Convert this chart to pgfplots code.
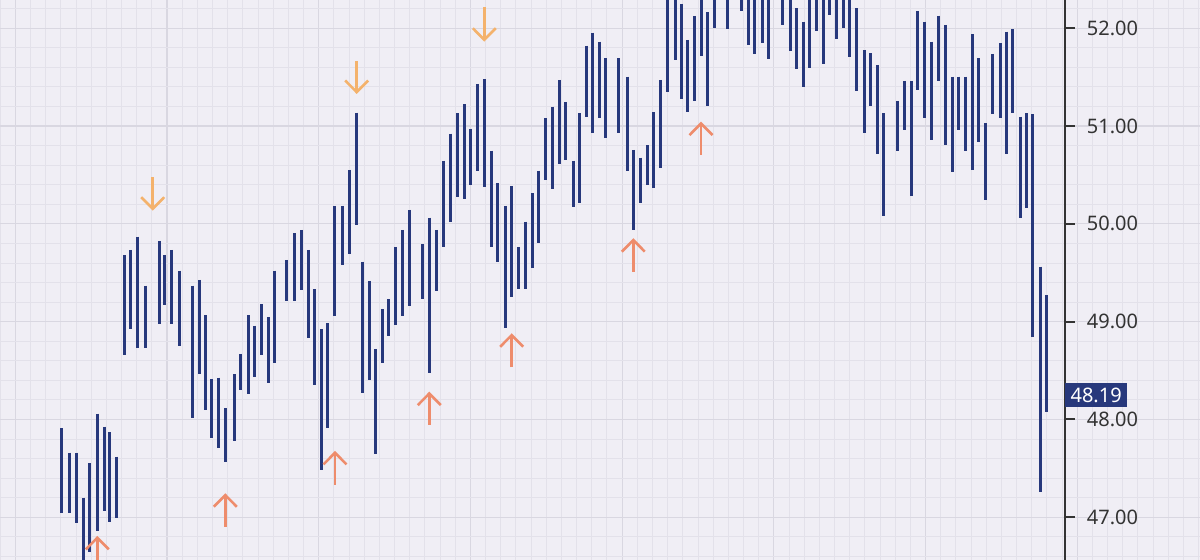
\documentclass[border=0pt]{standalone}
\usepackage{fontspec}
\setmainfont{Noto Sans}
\usepackage{pgfplots}
\pgfplotsset{compat=1.18}
\usepackage{pgfplotstable}
\usetikzlibrary{arrows.meta}
\definecolor{bg}{HTML}{F0EEF5}
\definecolor{gridmajor}{HTML}{D9D7E1}
\definecolor{gridminor}{HTML}{E3E1EA}
\definecolor{barblue}{HTML}{27387C}
\definecolor{upc}{HTML}{EE8C6C}
\definecolor{downc}{HTML}{F4B26C}
\definecolor{axisc}{HTML}{333333}

\pgfplotstableread{
x lo hi
61.7 47.047 47.910
69.3 47.047 47.661
76.7 46.945 47.661
83.7 46.45 47.200
89.7 46.648 47.552
97.3 46.86 48.059
104 47.064 47.926
109.7 46.955 47.869
116.7 46.990 47.620
124 48.660 49.679
130.7 48.928 49.733
137.7 48.728 49.869
145 48.728 49.368
159 48.977 49.825
164.7 49.171 49.682
171.3 48.977 49.733
179 48.755 49.521
192.7 48.018 49.368
199 48.465 49.426
205.7 48.097 49.065
211.3 47.814 48.414
218.7 47.712 48.427
225.3 47.560 48.112
234 47.783 48.462
240.7 48.302 48.670
248.3 48.261 49.065
254.3 48.438 48.959
261.3 48.656 49.178
268.3 48.376 49.045
274.3 48.581 49.521
286.7 49.211 49.631
294 49.211 49.904
301 49.324 49.938
308 48.830 49.733
314.7 48.353 49.331
321 47.483 48.922
327.7 47.916 48.984
334.7 49.058 50.183
342.7 49.577 50.183
349.3 49.689 50.551
356.7 49.989 51.137
362.7 48.268 49.614
369 48.404 49.416
375.3 47.647 48.718
382.3 48.581 49.127
388.7 48.854 49.229
395.7 48.969 49.764
402.3 49.058 49.938
409.3 49.160 50.142
422.7 49.232 49.791
429.3 48.472 50.063
436.7 49.317 49.938
443.7 49.767 50.646
450.7 50.019 50.922
457 50.272 51.131
464 50.252 51.223
470.7 50.398 50.973
477 50.544 51.430
484.3 50.374 51.479
491 49.767 50.748
497.7 49.610 50.415
505 48.933 50.183
511.7 49.256 50.388
518.7 49.337 49.761
525.3 49.337 50.022
532 49.552 50.313
538.3 49.802 50.544
545 50.449 51.080
552 50.354 51.198
559.3 50.612 51.471
565.8 50.648 51.246
573.7 50.176 50.646
579 50.211 51.131
586 51.096 51.822
592.7 50.926 51.955
599.3 51.086 51.863
605.7 50.881 51.693
618.7 50.933 51.693
627 50.541 51.505
633.7 49.938 50.756
640 50.217 50.677
647 50.395 50.804
653.7 50.370 51.141
660 50.575 51.471
667.3 51.346 52.40
675 51.676 52.50
681.3 51.274 52.248
687.7 51.141 51.880
694.7 51.260 52.126
701 51.717 52.40
707.7 51.206 52.164
714.3 52.000 52.50
727.7 51.993 52.60
741 52.177 52.60
748.3 51.829 52.40
754 51.734 52.50
762 51.847 52.60
768.3 51.683 52.40
782.7 52.034 52.60
790 51.771 52.50
796.7 51.584 52.204
803.7 51.403 52.067
809.7 51.597 52.40
816 51.972 52.60
823.3 51.632 52.50
829.7 52.136 52.70
836 51.891 52.50
843.3 52.000 52.60
849.7 51.703 52.40
856.7 51.362 52.204
864.7 50.933 51.778
870 51.206 51.744
877.7 50.715 51.625
883.3 50.084 51.131
897.3 50.745 51.257
904.5 50.960 51.461
911.7 50.288 51.461
917.3 51.369 52.177
924 51.080 52.067
931.7 50.858 51.863
938.3 51.464 52.129
945 50.807 52.034
952.7 50.531 51.505
958.3 50.960 51.505
965.7 50.745 51.505
972.7 50.551 51.939
978.3 50.834 51.693
985.3 50.244 51.029
992.3 51.124 51.737
1000 51.080 51.847
1006 50.712 51.965
1012.3 51.137 51.990
1020 50.057 51.096
1026 50.160 51.131
1032 48.840 51.121
1040 47.256 49.562
1046.7 48.072 49.273
}\bars

\pgfplotstableread{
x y v
97.3 46.47 0.339
225.3 46.904 0.341
335 47.330 0.348
429.3 47.944 0.340
511.7 48.534 0.347
633.3 49.511 0.342
701 50.704 0.341
}\uparrows

\pgfplotstableread{
x y v
152.7 50.476 -0.341
356.7 51.666 -0.338
484.3 52.215 -0.352
}\downarrows

\begin{document}
\begin{tikzpicture}
\path[use as bounding box] (0,0) rectangle (600pt,280pt);
% background grid across the whole picture
\begin{axis}[
  at={(0,0)}, anchor=south west, scale only axis,
  width=600pt, height=280pt,
  xmin=0, xmax=1200, ymin=46.563, ymax=52.289,
  axis line style={draw=none},
  xtick={15.3,167,318.7,470.4,622.1,773.8,925.5,1077.2},
  minor xtick={0.13,15.3,...,1200},
  ytick={47,...,52},
  minor ytick={46.6,46.8,...,52.3},
  xticklabels={}, yticklabels={},
  major tick length=0pt, minor tick length=0pt,
  tick style={draw=none},
  grid=both,
  major grid style={draw=gridmajor, line width=0.6pt},
  minor grid style={draw=gridminor, line width=0.45pt},
  axis background/.style={fill=bg},
]
\addplot[draw=none, mark=none] coordinates {(0,47) (1200,52)};
\end{axis}
% data axis
\begin{axis}[
  at={(0,0)}, anchor=south west, scale only axis,
  width=532.5pt, height=280pt,
  xmin=0, xmax=1065, ymin=46.563, ymax=52.289,
  axis x line=none, axis y line=right,
  axis line style={draw=axisc, line width=1pt, -},
  every outer y axis line/.append style={-},
  every inner y axis line/.append style={-},
  ytick={47,...,52},
  yticklabels={47.00,48.00,49.00,50.00,51.00,52.00},
  tick align=outside, major tick length=5pt,
  tick style={draw=axisc, line width=1pt},
  yticklabel style={font=\fontsize{10}{12}\selectfont, text=axisc, xshift=2.4pt},
  clip mode=individual,
]
\addplot[draw=none, mark=none,
  error bars/.cd, y dir=minus, y explicit, error mark=none,
  error bar style={draw=barblue, line width=1.5pt, solid}]
  table[x=x, y=hi, y error minus expr=\thisrow{hi}-\thisrow{lo}] {\bars};
\addplot[draw=upc, line width=1.3pt, mark=none,
  -{Straight Barb[length=5.8pt, width=11.5pt, line width=1.3pt]},
  quiver={u=0, v=\thisrow{v}}]
  table[x=x, y=y] {\uparrows};
\addplot[draw=downc, line width=1.3pt, mark=none,
  -{Straight Barb[length=5.8pt, width=11.5pt, line width=1.3pt]},
  quiver={u=0, v=\thisrow{v}}]
  table[x=x, y=y] {\downarrows};
\node[fill=barblue, text=white, anchor=west, inner xsep=2.6pt, inner ysep=0pt,
  minimum height=12pt, font=\fontsize{10}{12}\selectfont, yshift=2.9pt]
  at (axis cs:1065,48.19) {48.19};
\end{axis}
\end{tikzpicture}
\end{document}
